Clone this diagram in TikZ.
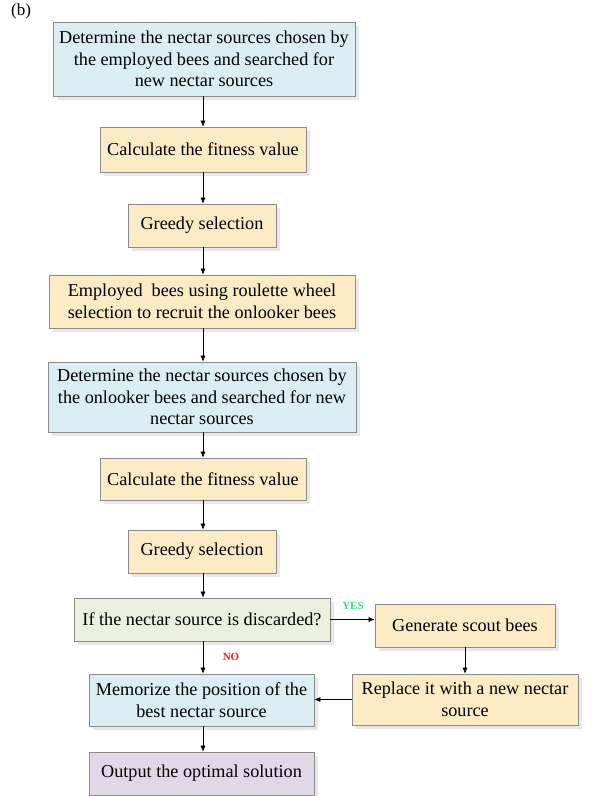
\documentclass[tikz,border=0pt]{standalone}
\usepackage{fontspec}
\setmainfont{Liberation Serif}
\usetikzlibrary{arrows.meta,shadows}
\definecolor{cblue}{HTML}{DAEEF3}
\definecolor{cyel}{HTML}{FDEBC6}
\definecolor{cgreen}{HTML}{EBF1DE}
\definecolor{cpurp}{HTML}{E0D8E8}
\definecolor{cborder}{HTML}{8C8C8C}
\definecolor{yescol}{HTML}{33E07A}
\definecolor{nocol}{HTML}{FF1A1A}
\begin{document}
\begin{tikzpicture}[x=1pt,y=-1pt,
  box/.style={draw=cborder,line width=0.7pt,align=center,inner sep=2pt,
    font=\fontsize{18.2}{21.5}\selectfont,
    drop shadow={opacity=0.18,shadow xshift=4pt,shadow yshift=-4pt}},
  bluebox/.style={box,fill=cblue},
  yelbox/.style={box,fill=cyel},
  greenbox/.style={box,fill=cgreen},
  purpbox/.style={box,fill=cpurp},
  arr/.style={-{Latex[length=6pt,width=5pt]},line width=0.6pt,black},
  lab/.style={font=\bfseries\fontsize{11}{12}\selectfont}]
\useasboundingbox (0,0) rectangle (592,796);
\node[font=\fontsize{17}{20}\selectfont] (b) at (21,11) {(b)};
\node[bluebox,minimum width=302pt,minimum height=74pt] (n1) at (204,59)
  {Determine the nectar sources chosen by\\the employed bees and searched for\\new nectar sources};
\node[yelbox,minimum width=206pt,minimum height=45pt] (n2) at (203,149.5)
  {Calculate the fitness value};
\node[yelbox,minimum width=148pt,minimum height=43pt] (n3) at (202,225.5)
  {Greedy selection};
\node[yelbox,minimum width=306pt,minimum height=53pt] (n4) at (202,301.5)
  {Employed\ \ bees using roulette wheel\\selection to recruit the onlooker bees};
\node[bluebox,minimum width=308pt,minimum height=70pt] (n5) at (202,397)
  {Determine the nectar sources chosen by\\the onlooker bees and searched for new\\nectar sources};
\node[yelbox,minimum width=206pt,minimum height=42pt] (n6) at (203,479)
  {Calculate the fitness value};
\node[yelbox,minimum width=148pt,minimum height=43pt] (n7) at (202,551.5)
  {Greedy selection};
\node[greenbox,minimum width=256pt,minimum height=43pt] (n8) at (202,619.5)
  {If the nectar source is discarded?};
\node[yelbox,minimum width=180pt,minimum height=43pt] (n9) at (465,625.5)
  {Generate scout bees};
\node[yelbox,minimum width=226pt,minimum height=51pt] (n10) at (465,699.5)
  {Replace it with a new nectar\\source};
\node[bluebox,minimum width=225pt,minimum height=52pt] (n11) at (201.5,700)
  {Memorize the position of the\\best nectar source};
\node[purpbox,minimum width=225pt,minimum height=43pt] (n12) at (201.5,773.5)
  {Output the optimal solution};
\draw[arr] (n1.south -| 203,0) -- (n2.north -| 203,0);
\draw[arr] (n2.south -| 203,0) -- (n3.north -| 203,0);
\draw[arr] (n3.south -| 203,0) -- (n4.north -| 203,0);
\draw[arr] (n4.south -| 203,0) -- (n5.north -| 203,0);
\draw[arr] (n5.south -| 203,0) -- (n6.north -| 203,0);
\draw[arr] (n6.south -| 203,0) -- (n7.north -| 203,0);
\draw[arr] (n7.south -| 203,0) -- (n8.north -| 203,0);
\draw[arr] (n8.south -| 203,0) -- (n11.north -| 203,0);
\node[lab,text=nocol] (no) at (231,657) {NO};
\draw[arr] (n8.east) -- (n8.east -| n9.west);
\node[lab,text=yescol] (yes) at (353,606) {YES};
\draw[arr] (n9.south) -- (n10.north);
\draw[arr] (n10.west) -- (n10.west -| n11.east);
\draw[arr] (n11.south -| 203,0) -- (n12.north -| 203,0);
\end{tikzpicture}
\end{document}
